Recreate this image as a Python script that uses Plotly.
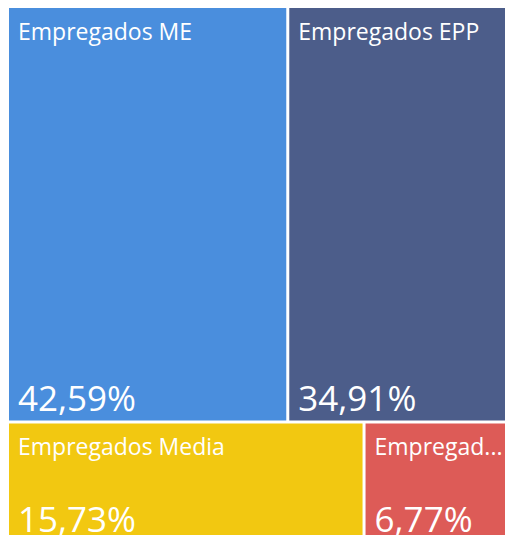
import plotly.graph_objects as go

categories = ["Empregados ME", "Empregados EPP", "Empregados Media", "Empregados Grande"]
display_labels = ["Empregados ME", "Empregados EPP", "Empregados Media", "Empregad..."]
shares = [42.59, 34.91, 15.73, 6.77]
colors = ["#4A8EDD", "#4C5D8A", "#F2C811", "#DD5B57"]

FW, FH = 540, 570
FONT = "Segoe UI, Open Sans, sans-serif"

def dom(x0, x1, y0, y1):
    return dict(x=[x0 / FW, x1 / FW], y=[1 - y1 / FH, 1 - y0 / FH])

parents = [""] * len(categories)
base = dict(labels=categories, parents=parents, values=shares, branchvalues="total",
            sort=True, tiling=dict(packing="squarify", pad=3), pathbar=dict(visible=False))
nopad = dict(t=0, l=0, r=0, b=0)
clear = ["rgba(0,0,0,0)"] * len(categories)

fig = go.Figure()
# coloured tiles
fig.add_trace(go.Treemap(**base, domain=dom(9, 516, 8, 541),
                         marker=dict(colors=colors, line=dict(width=0), pad=nopad),
                         texttemplate=" ", hoverinfo="label+value"))
# category labels (same tiling, offset inward)
fig.add_trace(go.Treemap(**base, domain=dom(15, 522, 12, 545), text=display_labels,
                         marker=dict(colors=clear, line=dict(width=0), pad=nopad),
                         texttemplate="%{text}", textposition="top left",
                         textfont=dict(family=FONT, size=23, color="white"), hoverinfo="skip"))
# percentage values
fig.add_trace(go.Treemap(**base, domain=dom(15, 522, 12, 545),
                         marker=dict(colors=clear, line=dict(width=0), pad=nopad),
                         texttemplate="%{value:.2f}%", textposition="bottom left",
                         textfont=dict(family=FONT, size=35, color="white"), hoverinfo="skip"))

fig.update_layout(width=FW, height=FH, margin=dict(l=0, r=0, t=0, b=0),
                  paper_bgcolor="white", separators=",.", showlegend=False)
fig.write_html("out.html")
